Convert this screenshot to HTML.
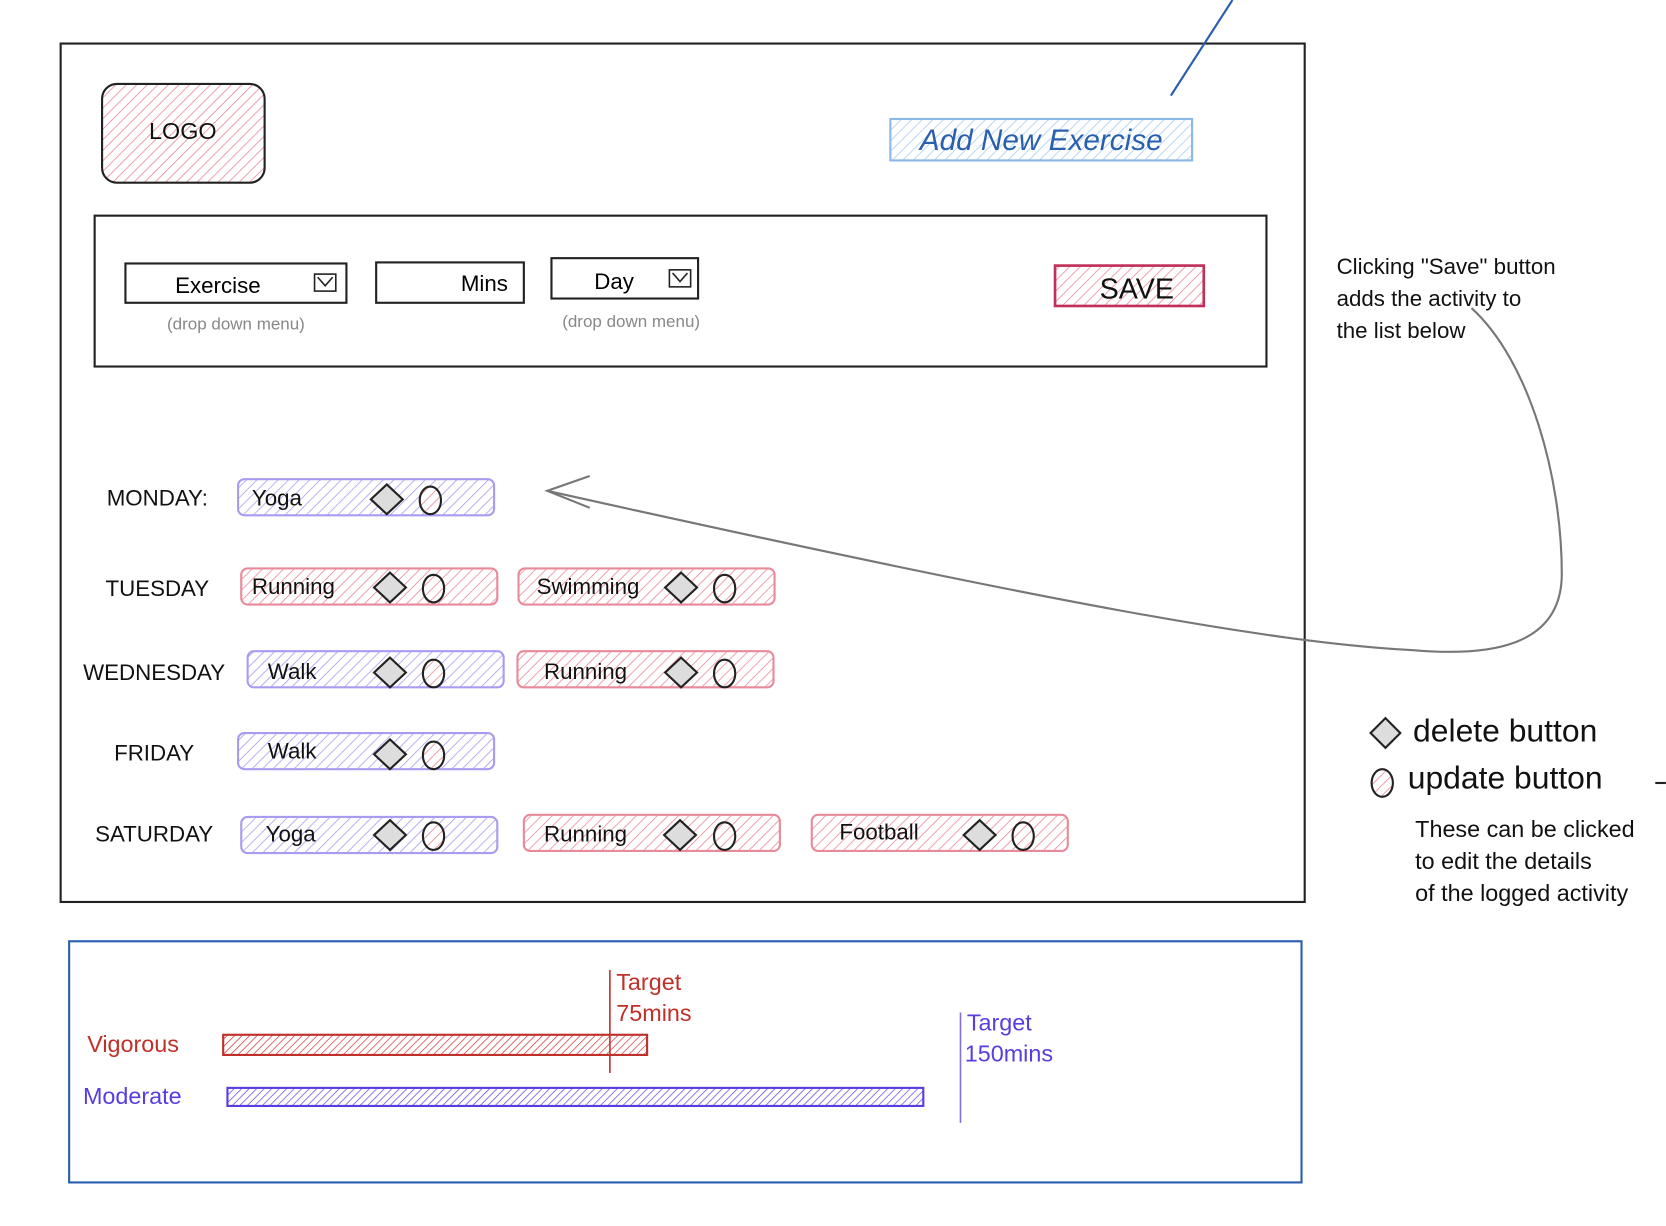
<!DOCTYPE html>
<html><head><meta charset="utf-8"><style>
html,body{margin:0;padding:0;background:#fff;width:1666px;height:1226px;overflow:hidden}
svg{display:block}
text{font-family:"Liberation Sans",sans-serif}
</style></head><body>
<svg width="1666" height="1226" viewBox="0 0 1568 1154" xmlns="http://www.w3.org/2000/svg">
<defs>
<pattern id="hp" width="7" height="7" patternUnits="userSpaceOnUse" patternTransform="rotate(45)"><rect width="7" height="7" fill="#fff"/><line x1="0" y1="0" x2="0" y2="7" stroke="#e88a9a" stroke-width="1.5"/></pattern>
<pattern id="hb" width="7" height="7" patternUnits="userSpaceOnUse" patternTransform="rotate(45)"><rect width="7" height="7" fill="#fff"/><line x1="0" y1="0" x2="0" y2="7" stroke="#a99cf0" stroke-width="1.5"/></pattern>
<pattern id="hl" width="7" height="7" patternUnits="userSpaceOnUse" patternTransform="rotate(45)"><rect width="7" height="7" fill="#fff"/><line x1="0" y1="0" x2="0" y2="7" stroke="#a8cdf0" stroke-width="1.5"/></pattern>
<pattern id="hr" width="5" height="5" patternUnits="userSpaceOnUse" patternTransform="rotate(45)"><rect width="5" height="5" fill="#fff"/><line x1="0" y1="0" x2="0" y2="5" stroke="#d03030" stroke-width="1.3"/></pattern>
<pattern id="hv" width="5" height="5" patternUnits="userSpaceOnUse" patternTransform="rotate(45)"><rect width="5" height="5" fill="#fff"/><line x1="0" y1="0" x2="0" y2="5" stroke="#5a3de0" stroke-width="1.3"/></pattern>
</defs>
<rect x="57" y="41" width="1171" height="808" fill="none" stroke="#222" stroke-width="2"/>
<line x1="1102" y1="90" x2="1160" y2="0" stroke="#2a5fb0" stroke-width="2"/>
<rect x="96" y="79" width="153" height="93" rx="14" fill="url(#hp)" stroke="#222" stroke-width="2"/>
<text x="172" y="131" font-size="22" text-anchor="middle" fill="#111">LOGO</text>
<rect x="838" y="112" width="284" height="39" fill="url(#hl)" stroke="#8bb8e8" stroke-width="2"/>
<text x="980" y="141" font-size="28" font-style="italic" text-anchor="middle" fill="#2a5fb0">Add New Exercise</text>
<rect x="89" y="203" width="1103" height="142" fill="none" stroke="#222" stroke-width="2"/>
<rect x="118" y="248" width="208" height="37" fill="#fff" stroke="#222" stroke-width="2"/>
<text x="205" y="276" font-size="21" text-anchor="middle">Exercise</text>
<rect x="296" y="258" width="20" height="16" fill="none" stroke="#222" stroke-width="1.5"/><path d="M299,261 l7,8 l7,-8" fill="none" stroke="#222" stroke-width="1.5"/>
<rect x="354" y="247" width="139" height="38" fill="#fff" stroke="#222" stroke-width="2"/>
<text x="478" y="274" font-size="21" text-anchor="end">Mins</text>
<rect x="519" y="243" width="138" height="38" fill="#fff" stroke="#222" stroke-width="2"/>
<text x="578" y="272" font-size="21" text-anchor="middle">Day</text>
<rect x="630" y="254" width="20" height="16" fill="none" stroke="#222" stroke-width="1.5"/><path d="M633,257 l7,8 l7,-8" fill="none" stroke="#222" stroke-width="1.5"/>
<text x="222" y="310" font-size="16" fill="#888" text-anchor="middle">(drop down menu)</text>
<text x="594" y="308" font-size="16" fill="#888" text-anchor="middle">(drop down menu)</text>
<rect x="993" y="250" width="140" height="38" fill="url(#hp)" stroke="#c0305a" stroke-width="2.5"/>
<text x="1070" y="281" font-size="27" text-anchor="middle" fill="#111">SAVE</text>
<g font-size="21" fill="#111">
<text x="148" y="476" text-anchor="middle">MONDAY:</text>
<text x="148" y="561" text-anchor="middle">TUESDAY</text>
<text x="145" y="640" text-anchor="middle">WEDNESDAY</text>
<text x="145" y="716" text-anchor="middle">FRIDAY</text>
<text x="145" y="792" text-anchor="middle">SATURDAY</text>
</g>
<g font-size="21" fill="#111" stroke-width="2">
<rect x="224" y="451" width="241" height="34" rx="6" fill="url(#hb)" stroke="#a99cf0"/><text x="237" y="476">Yoga</text>
<rect x="227" y="535" width="241" height="34" rx="6" fill="url(#hp)" stroke="#e88a9a"/><text x="237" y="559">Running</text>
<rect x="488" y="535" width="241" height="34" rx="6" fill="url(#hp)" stroke="#e88a9a"/><text x="505" y="559">Swimming</text>
<rect x="233" y="613" width="241" height="34" rx="6" fill="url(#hb)" stroke="#a99cf0"/><text x="252" y="639">Walk</text>
<rect x="487" y="613" width="241" height="34" rx="6" fill="url(#hp)" stroke="#e88a9a"/><text x="512" y="639">Running</text>
<rect x="224" y="690" width="241" height="34" rx="6" fill="url(#hb)" stroke="#a99cf0"/><text x="252" y="714">Walk</text>
<rect x="227" y="769" width="241" height="34" rx="6" fill="url(#hb)" stroke="#a99cf0"/><text x="250" y="792">Yoga</text>
<rect x="493" y="767" width="241" height="34" rx="6" fill="url(#hp)" stroke="#e88a9a"/><text x="512" y="792">Running</text>
<rect x="764" y="767" width="241" height="34" rx="6" fill="url(#hp)" stroke="#e88a9a"/><text x="790" y="790">Football</text>
</g>
<g fill="#ddd" stroke="#222" stroke-width="2">
<path d="M364,456 l15,14 l-15,14 l-15,-14z"/><ellipse cx="405" cy="471" rx="10" ry="13" fill="url(#hp)"/>
<path d="M367,539 l15,14 l-15,14 l-15,-14z"/><ellipse cx="408" cy="554" rx="10" ry="13" fill="url(#hp)"/>
<path d="M641,539 l15,14 l-15,14 l-15,-14z"/><ellipse cx="682" cy="554" rx="10" ry="13" fill="url(#hp)"/>
<path d="M367,619 l15,14 l-15,14 l-15,-14z"/><ellipse cx="408" cy="634" rx="10" ry="13" fill="url(#hp)"/>
<path d="M641,619 l15,14 l-15,14 l-15,-14z"/><ellipse cx="682" cy="634" rx="10" ry="13" fill="url(#hp)"/>
<path d="M367,696 l15,14 l-15,14 l-15,-14z"/><ellipse cx="408" cy="711" rx="10" ry="13" fill="url(#hp)"/>
<path d="M367,772 l15,14 l-15,14 l-15,-14z"/><ellipse cx="408" cy="787" rx="10" ry="13" fill="url(#hp)"/>
<path d="M640,772 l15,14 l-15,14 l-15,-14z"/><ellipse cx="682" cy="787" rx="10" ry="13" fill="url(#hp)"/>
<path d="M922,772 l15,14 l-15,14 l-15,-14z"/><ellipse cx="963" cy="787" rx="10" ry="13" fill="url(#hp)"/>
</g>
<path d="M1385,290 C1440,340 1470,450 1470,540 C1470,610 1400,618 1330,612 C1200,605 1000,570 515,462" fill="none" stroke="#777" stroke-width="2"/>
<path d="M555,448 L515,462 L555,478" fill="none" stroke="#777" stroke-width="2"/>
<g font-size="21" fill="#111">
<text x="1258" y="258">Clicking "Save" button</text>
<text x="1258" y="288">adds the activity to</text>
<text x="1258" y="318">the list below</text>
</g>
<path d="M1304,676 l14,14 l-14,14 l-14,-14z" fill="#ddd" stroke="#222" stroke-width="2"/>
<ellipse cx="1301" cy="737" rx="10" ry="13" fill="url(#hp)" stroke="#222" stroke-width="2"/>
<text x="1330" y="698" font-size="30" fill="#111">delete button</text>
<text x="1325" y="742" font-size="30" fill="#111">update button</text>
<line x1="1558" y1="737" x2="1568" y2="737" stroke="#222" stroke-width="2"/>
<g font-size="22" fill="#111">
<text x="1332" y="788">These can be clicked</text>
<text x="1332" y="818">to edit the details</text>
<text x="1332" y="848">of the logged activity</text>
</g>
<rect x="65" y="886" width="1160" height="227" fill="none" stroke="#2a5fb0" stroke-width="2"/>
<text x="82" y="990" font-size="22" fill="#c0302a">Vigorous</text>
<text x="78" y="1039" font-size="22" fill="#5a3de0">Moderate</text>
<rect x="210" y="974" width="399" height="19" fill="url(#hr)" stroke="#c0302a" stroke-width="2"/>
<rect x="214" y="1024" width="655" height="17" fill="url(#hv)" stroke="#5a3de0" stroke-width="2"/>
<line x1="574" y1="913" x2="574" y2="1010" stroke="#c0302a" stroke-width="1.5"/>
<line x1="904" y1="953" x2="904" y2="1057" stroke="#8070e0" stroke-width="1.5"/>
<text x="580" y="932" font-size="22" fill="#c0302a">Target</text>
<text x="580" y="961" font-size="22" fill="#c0302a">75mins</text>
<text x="910" y="970" font-size="22" fill="#5a3de0">Target</text>
<text x="908" y="999" font-size="22" fill="#5a3de0">150mins</text>
</svg>
</body></html>
